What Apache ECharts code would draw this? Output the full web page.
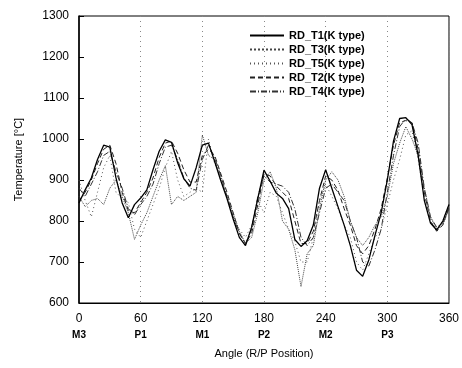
<!DOCTYPE html>
<html>
<head>
<meta charset="utf-8">
<script src="https://cdn.jsdelivr.net/npm/echarts@6/dist/echarts.min.js"></script>
<style>
  html, body { margin: 0; padding: 0; background: #fff; }
  #chart { width: 462px; height: 368px; }
</style>
</head>
<body>
<div id="chart"></div>
<script>
// angle in degrees, one reading every 6 deg
var angles = [];
for (var a = 0; a <= 360; a += 6) angles.push(a);

var positionLabels = { 0: 'M3', 60: 'P1', 120: 'M1', 180: 'P2', 240: 'M2', 300: 'P3', 360: '' };

var seriesNames = ['RD_T1(K type)', 'RD_T3(K type)', 'RD_T5(K type)', 'RD_T2(K type)', 'RD_T4(K type)'];

var t1 = [844, 876, 905, 950, 985, 980, 905, 844, 808, 840, 856, 876, 925, 970, 998, 992, 942, 903, 885, 930,
  985, 990, 945, 898, 855, 805, 760, 740, 785, 855, 924, 897, 868, 855, 830, 755, 738, 752, 790, 880,
  925, 880, 835, 790, 740, 680, 665, 705, 765, 820, 900, 995, 1050, 1052, 1035, 960, 850, 795, 778, 800, 840];

var t3 = [860, 835, 850, 855, 840, 880, 900, 860, 820, 755, 790, 820, 860, 900, 935, 840, 860, 850, 860, 870,
  1010, 960, 950, 900, 860, 820, 775, 745, 760, 820, 900, 920, 880, 800, 780, 730, 640, 720, 740, 830,
  900, 920, 900, 860, 800, 760, 740, 760, 790, 810, 860, 940, 990, 1030, 1000, 960, 880, 810, 780, 790, 830];

var t5 = [900, 850, 810, 870, 930, 960, 870, 855, 845, 780, 760, 800, 840, 880, 930, 970, 900, 860, 870, 880,
  870, 1000, 940, 910, 860, 810, 780, 760, 790, 850, 820, 870, 860, 820, 780, 750, 700, 700, 760, 850,
  890, 860, 830, 790, 760, 700, 680, 720, 760, 780, 840, 900, 950, 1010, 1020, 950, 860, 800, 780, 800, 840];

var t2 = [850, 870, 900, 940, 975, 985, 940, 870, 825, 820, 845, 870, 905, 955, 990, 995, 965, 925, 895, 895,
  960, 975, 960, 915, 870, 820, 770, 745, 770, 840, 915, 910, 885, 870, 855, 800, 745, 745, 775, 850,
  910, 900, 875, 830, 790, 740, 720, 740, 780, 830, 905, 985, 1040, 1045, 1040, 975, 870, 800, 775, 790, 835];

var t4 = [880, 860, 890, 920, 960, 970, 920, 880, 830, 815, 840, 860, 890, 940, 980, 985, 950, 905, 880, 875,
  950, 985, 955, 910, 860, 810, 770, 745, 780, 860, 910, 895, 890, 885, 870, 830, 760, 740, 760, 820,
  880, 890, 870, 850, 800, 760, 700, 690, 730, 780, 870, 960, 1030, 1050, 1040, 990, 880, 810, 785, 795, 830];

var allValues = [t1, t3, t5, t2, t4];

function pairs(vals) {
  return angles.map(function (a, i) { return [a, vals[i]]; });
}

var lineStyles = [
  { color: '#000', width: 1.3, type: 'solid' },
  { color: '#444', width: 1, type: 'dotted' },
  { color: '#555', width: 1, type: [1, 3] },
  { color: '#222', width: 1, type: [5, 3] },
  { color: '#333', width: 1, type: [6, 2, 1, 2] }
];

var myChart = echarts.init(document.getElementById('chart'));

var option = {
  animation: false,
  backgroundColor: '#fff',
  textStyle: { fontFamily: 'Liberation Sans, Arial, sans-serif' },
  grid: {
    left: 79, right: 11, top: 16, bottom: 65,
    show: true, borderColor: '#000', borderWidth: 1
  },
  legend: {
    orient: 'vertical',
    left: 244, top: 25,
    itemWidth: 34, itemHeight: 8, itemGap: 3,
    itemStyle: { opacity: 0 },
    textStyle: { fontSize: 11, color: '#000', fontWeight: 'bold' },
    data: seriesNames
  },
  xAxis: {
    type: 'value',
    min: 0, max: 360, interval: 60,
    name: 'Angle (R/P Position)',
    nameLocation: 'middle',
    nameGap: 42,
    nameTextStyle: { fontSize: 11, color: '#000' },
    axisLine: { show: true, lineStyle: { color: '#000', width: 1 } },
    axisTick: { show: false },
    splitLine: { show: true, lineStyle: { color: '#888', type: [1, 4], width: 1 } },
    axisLabel: {
      margin: 7,
      color: '#000',
      fontSize: 12,
      lineHeight: 17,
      formatter: function (v) { return v + '\n{p|' + positionLabels[v] + '}'; },
      rich: { p: { fontSize: 10, fontWeight: 'bold', color: '#000', lineHeight: 17 } }
    }
  },
  yAxis: {
    type: 'value',
    min: 600, max: 1300, interval: 100,
    name: 'Temperature [°C]',
    nameLocation: 'middle',
    nameGap: 55,
    nameTextStyle: { fontSize: 11, color: '#000' },
    axisLine: { show: true, lineStyle: { color: '#000', width: 1.5 } },
    axisTick: { show: true, inside: true, length: 5, lineStyle: { color: '#000' } },
    splitLine: { show: false },
    axisLabel: { color: '#000', fontSize: 12, margin: 10, formatter: function (v) { return String(v); } }
  },
  series: seriesNames.map(function (name, i) {
    return {
      name: name,
      type: 'line',
      symbol: 'none',
      data: pairs(allValues[i]),
      lineStyle: lineStyles[i],
      itemStyle: { color: lineStyles[i].color },
      z: 10 - i
    };
  })
};

myChart.setOption(option, true);
</script>
</body>
</html>
